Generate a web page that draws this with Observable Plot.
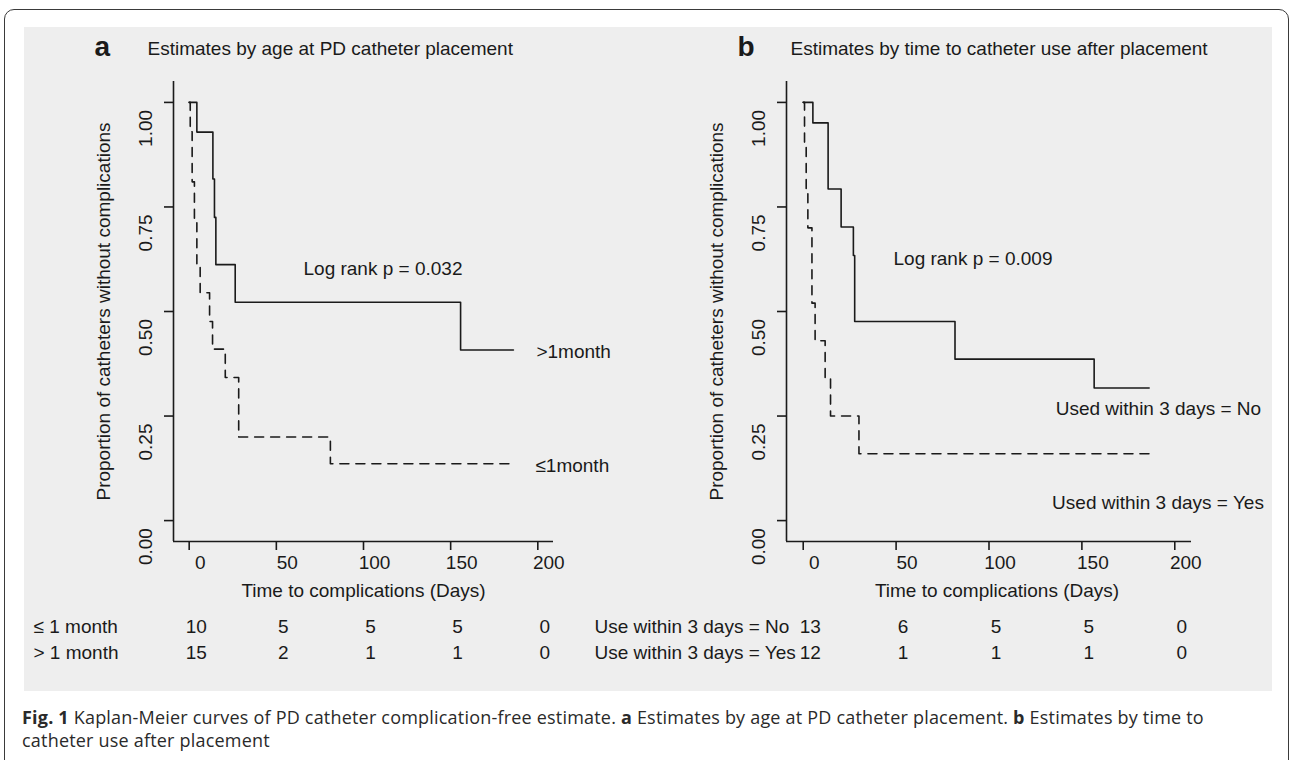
<!DOCTYPE html>
<html><head><meta charset="utf-8">
<script src="https://cdn.jsdelivr.net/npm/d3@7"></script>
<script src="https://cdn.jsdelivr.net/npm/@observablehq/plot@0.6"></script>
<style>
html,body{margin:0;padding:0;background:#fff;width:1292px;height:760px;overflow:hidden;}
#page{position:relative;width:1292px;height:760px;}
#border{position:absolute;left:4px;top:9px;width:1285px;height:800px;border:1.5px solid #3a3a3a;border-radius:10px;box-sizing:border-box;}
#panel{position:absolute;left:24px;top:27px;width:1248px;height:664px;background:#eeeeee;}
#plotA{position:absolute;left:23px;top:26px;}
#plotB{position:absolute;left:623px;top:26px;}
#caption{position:absolute;left:22px;top:706px;font-family:"Open Sans",sans-serif;font-size:18px;letter-spacing:0.2px;line-height:23px;color:#2a2a2a;white-space:nowrap;}
svg{overflow:visible;}
</style></head>
<body><div id="page"><div id="border"></div><div id="panel"></div><div id="plotA"></div><div id="plotB"></div>
<div id="caption"><b>Fig. 1</b> Kaplan-Meier curves of PD catheter complication-free estimate. <b>a</b> Estimates by age at PD catheter placement. <b>b</b> Estimates by time to<br>catheter use after placement</div></div>
<script>
// ---- axis ticks ----
const xTicks = [0, 50, 100, 150, 200];
const yTicks = [0, 0.25, 0.5, 0.75, 1];

// ---- panel a: Kaplan-Meier steps (time in days, survival) ----
const aOverTime  = [0, 4.4, 13.6, 14.5, 15.3, 26.4, 155.7, 186];
const aOverSurv  = [1.0, 0.929, 0.817, 0.725, 0.612, 0.522, 0.408, 0.408];
const aUnderTime = [0, 0.6, 1.7, 3.0, 4.4, 6.3, 11.7, 13.4, 20.7, 28.4, 81, 186];
const aUnderSurv = [1.0, 0.93, 0.81, 0.72, 0.61, 0.545, 0.476, 0.41, 0.342, 0.2, 0.136, 0.136];

// ---- panel b ----
const bNoTime  = [0, 5.2, 13.4, 20.4, 27, 27.7, 81.7, 156.6, 186.2];
const bNoSurv  = [1.0, 0.951, 0.793, 0.702, 0.634, 0.476, 0.386, 0.317, 0.317];
const bYesTime = [0, 0.7, 1.6, 2.5, 4.7, 6.4, 11.8, 14.7, 30, 186.6];
const bYesSurv = [1.0, 0.9, 0.79, 0.70, 0.52, 0.43, 0.34, 0.25, 0.16, 0.16];

// ---- numbers at risk ----
const riskTimes = [0, 50, 100, 150, 200];
const aRiskUnder = [10, 5, 5, 5, 0];
const aRiskOver  = [15, 2, 1, 1, 0];
const bRiskNo    = [13, 6, 5, 5, 0];
const bRiskYes   = [12, 1, 1, 1, 0];

const toSteps = (t, s) => t.map((d, i) => ({time: d, surv: s[i]}));
const toRisk = (n) => riskTimes.map((t, i) => ({time: t, n: n[i]}));
const fmt2 = d3.format(".2f");
const ink = "#1a1a1a";
const mid = {lineAnchor: "middle"};

function makePanel(cfg) {
  const xDom = [-9, 209], yDom = [-0.05, 1.05];
  const marks = [
    Plot.ruleX([xDom[0]], {stroke: ink, strokeWidth: 1.6}),
    Plot.ruleY([yDom[0]], {stroke: ink, strokeWidth: 1.6}),
    Plot.axisX({ticks: xTicks, tickSize: 9, tickFormat: () => "", label: null, strokeWidth: 1.6}),
    Plot.axisY({ticks: yTicks, tickSize: 9, tickFormat: () => "", label: null, strokeWidth: 1.6}),
    Plot.text(yTicks, {y: d => d, text: d => fmt2(d), frameAnchor: "left", dx: -28, dy: 26, rotate: -90, textAnchor: "middle", ...mid}),
    Plot.text(xTicks, {x: d => d, text: d => String(d), frameAnchor: "bottom", dy: 21, dx: 11, textAnchor: "middle", ...mid}),
    Plot.text(["Proportion of catheters without complications"], {text: d => d, frameAnchor: "left", dx: -70, rotate: -90, textAnchor: "middle", ...mid}),
    Plot.text(["Time to complications (Days)"], {text: d => d, frameAnchor: "bottom", dy: 49, dx: cfg.xTitleDx, textAnchor: "middle", ...mid}),
    Plot.text([cfg.letter], {text: d => d, frameAnchor: "top-left", dx: cfg.letterDx, dy: -34, textAnchor: "start", fontWeight: "bold", fontSize: 28, ...mid}),
    Plot.text([cfg.title], {text: d => d, frameAnchor: "top-left", dx: cfg.titleDx, dy: -33, textAnchor: "start", ...mid}),
    Plot.text([cfg.logrank], {text: d => d, frameAnchor: "top-left", dx: cfg.lrDx, dy: cfg.lrDy, textAnchor: "start", ...mid}),
    Plot.line(cfg.solid, {x: "time", y: "surv", curve: "step-after", stroke: ink, strokeWidth: 1.6}),
    Plot.line(cfg.dashed, {x: "time", y: "surv", curve: "step-after", stroke: ink, strokeWidth: 1.6, strokeDasharray: "9,7"}),
    Plot.text([cfg.solid[cfg.solid.length - 1]], {x: "time", y: "surv", text: () => cfg.solidLabel, dx: cfg.solidLab[0], dy: cfg.solidLab[1], textAnchor: cfg.labAnchor, ...mid}),
    Plot.text([cfg.dashed[cfg.dashed.length - 1]], {x: "time", y: "surv", text: () => cfg.dashedLabel, dx: cfg.dashedLab[0], dy: cfg.dashedLab[1], textAnchor: cfg.labAnchor, ...mid}),
    Plot.text([cfg.row1Name], {text: d => d, frameAnchor: "bottom-left", dx: cfg.rowNameDx, dy: 85, textAnchor: "start", ...mid}),
    Plot.text([cfg.row2Name], {text: d => d, frameAnchor: "bottom-left", dx: cfg.rowNameDx, dy: 111, textAnchor: "start", ...mid}),
    Plot.text(cfg.row1, {x: "time", text: "n", frameAnchor: "bottom", dy: 85, dx: cfg.riskDx, textAnchor: "middle", ...mid}),
    Plot.text(cfg.row2, {x: "time", text: "n", frameAnchor: "bottom", dy: 111, dx: cfg.riskDx, textAnchor: "middle", ...mid})
  ];
  return Plot.plot({
    width: cfg.width, height: 644,
    marginLeft: cfg.ml, marginRight: cfg.mr, marginTop: 55, marginBottom: 129,
    x: {domain: xDom}, y: {domain: yDom},
    style: {background: "transparent", fontFamily: "'Liberation Sans', Arial, sans-serif", fontSize: "19px", color: ink, overflow: "visible"},
    marks
  });
}

document.getElementById("plotA").appendChild(makePanel({
  width: 600, ml: 150, mr: 70,
  letter: "a", letterDx: -79, title: "Estimates by age at PD catheter placement", titleDx: -26,
  logrank: "Log rank p = 0.032", lrDx: 130, lrDy: 187, xTitleDx: 0,
  solid: toSteps(aOverTime, aOverSurv), dashed: toSteps(aUnderTime, aUnderSurv),
  solidLabel: ">1month", dashedLabel: "\u22641month", solidLab: [23, 2], dashedLab: [22, 2], labAnchor: "start",
  row1Name: "\u2264 1 month", row2Name: "> 1 month", rowNameDx: -140,
  row1: toRisk(aRiskUnder), row2: toRisk(aRiskOver), riskDx: 7
}));

document.getElementById("plotB").appendChild(makePanel({
  width: 647, ml: 163, mr: 79,
  letter: "b", letterDx: -49, title: "Estimates by time to catheter use after placement", titleDx: 4,
  logrank: "Log rank p = 0.009", lrDx: 107, lrDy: 177, xTitleDx: 8,
  solid: toSteps(bNoTime, bNoSurv), dashed: toSteps(bYesTime, bYesSurv),
  solidLabel: "Used within 3 days = No", dashedLabel: "Used within 3 days = Yes", solidLab: [112, 21], dashedLab: [114, 49], labAnchor: "end",
  row1Name: "Use within 3 days = No", row2Name: "Use within 3 days = Yes", rowNameDx: -192,
  row1: toRisk(bRiskNo), row2: toRisk(bRiskYes), riskDx: 7
}));
</script>
</body></html>
